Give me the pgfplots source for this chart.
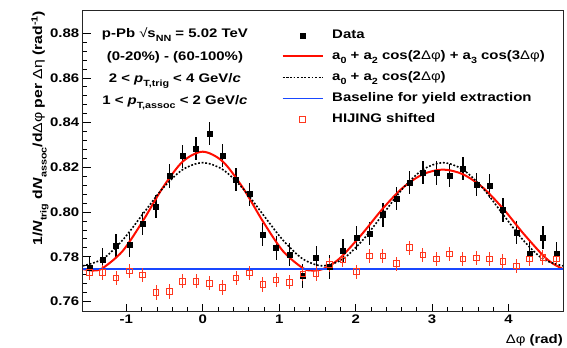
\documentclass[border=0pt]{standalone}
\usepackage{fontspec}
\setmainfont{Liberation Sans}[FakeStretch=1.2]
\newfontfamily\gr{Liberation Sans}[FakeStretch=1.2]
\usepackage{pgfplots}
\pgfplotsset{compat=1.18}
\usepackage{pgfplotstable}
\newcommand\sub[1]{\raisebox{-4.5bp}{\fontsize{9}{9}\selectfont #1}}
\newcommand\supr[1]{\raisebox{4.5bp}{\fontsize{9}{9}\selectfont #1}}
\newcommand\dphi{{\gr\mdseries Δφ}}
\newcommand\deta{{\gr\mdseries Δη}}
\definecolor{fitred}{rgb}{1,0.05,0.0}
\definecolor{hijred}{rgb}{1,0.22,0.12}
\definecolor{baseblue}{rgb}{0.1,0.28,1}
\newcommand\bigfont{\fontsize{12.5}{14}\selectfont\bfseries}
\newcommand\labfont{\fontsize{13.2}{15}\selectfont\bfseries}

\pgfplotstableread{
x y e
-1.4835 0.7750 0.0052
-1.3090 0.7787 0.0052
-1.1345 0.7850 0.0052
-0.9599 0.7852 0.0052
-0.7854 0.7948 0.0052
-0.6109 0.8025 0.0052
-0.4363 0.8161 0.0052
-0.2618 0.8250 0.0052
-0.0873 0.8283 0.0052
0.0873 0.8351 0.0052
0.2618 0.8252 0.0052
0.4363 0.8144 0.0052
0.6109 0.8080 0.0052
0.7854 0.7900 0.0052
0.9599 0.7839 0.0052
1.1345 0.7810 0.0052
1.3090 0.7714 0.0052
1.4835 0.7794 0.0052
1.6581 0.7754 0.0052
1.8326 0.7827 0.0052
2.0071 0.7884 0.0052
2.1817 0.7905 0.0052
2.3562 0.7987 0.0052
2.5307 0.8059 0.0052
2.7053 0.8133 0.0052
2.8798 0.8178 0.0052
3.0543 0.8175 0.0052
3.2289 0.8164 0.0052
3.4034 0.8196 0.0052
3.5779 0.8123 0.0052
3.7525 0.8116 0.0052
3.9270 0.8009 0.0052
4.1015 0.7908 0.0052
4.2761 0.7812 0.0052
4.4506 0.7886 0.0052
4.6251 0.7812 0.0052
}\datatab

\pgfplotstableread{
x y e
-1.4835 0.7729 0.0032
-1.3090 0.7729 0.0032
-1.1345 0.7704 0.0032
-0.9599 0.7736 0.0032
-0.7854 0.7719 0.0032
-0.6109 0.7640 0.0032
-0.4363 0.7644 0.0032
-0.2618 0.7690 0.0032
-0.0873 0.7690 0.0032
0.0873 0.7681 0.0032
0.2618 0.7662 0.0032
0.4363 0.7705 0.0032
0.6109 0.7727 0.0032
0.7854 0.7676 0.0032
0.9599 0.7696 0.0032
1.1345 0.7686 0.0032
1.3090 0.7723 0.0032
1.4835 0.7725 0.0032
1.6581 0.7764 0.0032
1.8326 0.7785 0.0032
2.0071 0.7733 0.0032
2.1817 0.7803 0.0032
2.3562 0.7803 0.0032
2.5307 0.7769 0.0032
2.7053 0.7840 0.0032
2.8798 0.7807 0.0032
3.0543 0.7790 0.0032
3.2289 0.7812 0.0032
3.4034 0.7790 0.0032
3.5779 0.7794 0.0032
3.7525 0.7790 0.0032
3.9270 0.7779 0.0032
4.1015 0.7759 0.0032
4.2761 0.7790 0.0032
4.4506 0.7797 0.0032
4.6251 0.7790 0.0032
}\hijtab

\begin{document}
\begin{tikzpicture}
\begin{axis}[
  at={(0,0)}, anchor=south west,
  scale only axis, width=480.3bp, height=301bp,
  xmin=-1.5708, xmax=4.7124, ymin=0.7554, ymax=0.8901,
  axis line style={line width=0.8bp, black!85},
  tick align=inside, xtick pos=bottom, ytick pos=left,
  major tick length=8bp, minor tick length=4.5bp,
  tick style={line width=0.8bp, black},
  xtick={-1,0,1,2,3,4}, xticklabels={-1,0,1,2,3,4},
  ytick={0.76,0.78,0.80,0.82,0.84,0.86,0.88},
  yticklabels={0.76,0.78,0.80,0.82,0.84,0.86,0.88},
  minor x tick num=4, minor y tick num=4,
  ticklabel style={font=\bigfont},
  xlabel={\dphi\ (rad)},
  xlabel style={at={(rel axis cs:1,0)}, anchor=north east, yshift=-22.5bp, inner sep=0pt, font=\bigfont},
  ylabel={1/\textit{N}\sub{trig} d\textit{N}\sub{assoc}/d\dphi\ per \deta\ (rad\supr{-1})},
  ylabel style={at={(rel axis cs:-0.0847,1)}, anchor=base east, inner sep=0pt, font=\labfont},
  legend cell align=left,
  legend image code/.code={\draw[mark repeat=2,mark phase=2,#1] plot coordinates {(0bp,0bp) (20bp,0bp) (40bp,0bp)};},
  legend style={at={(rel axis cs:0.414,0.944)}, anchor=north west, draw=none, fill=none,
    font=\bigfont, row sep=6.1bp, inner sep=0pt,
    nodes={inner sep=1.5bp, text height=9bp, text depth=3bp},
    /tikz/every odd column/.append style={column sep=7bp}},
]
\addplot[only marks, mark=square*, mark size=2.5bp, black,
  error bars/.cd, y dir=both, y explicit, error mark=none,
  error bar style={line width=1.3bp, black}]
  table[x=x, y=y, y error=e] {\datatab};
\addlegendentry{Data}

\addplot[fitred, line width=2bp, smooth, no marks] coordinates {
(-1.5708,0.7745) (-1.4399,0.7738) (-1.3090,0.7749) (-1.0472,0.7826) (-0.7854,0.7959)
(-0.5236,0.8109) (-0.2618,0.8226) (0,0.8270) (0.2618,0.8226) (0.5236,0.8109)
(0.7854,0.7959) (1.0472,0.7826) (1.3090,0.7749) (1.4399,0.7738) (1.5708,0.7745)
(1.7017,0.7769) (1.8326,0.7806) (2.0944,0.7906) (2.3562,0.8016) (2.6180,0.8109)
(2.8798,0.8169) (3.1416,0.8190) (3.4034,0.8169) (3.6652,0.8109) (3.9270,0.8016)
(4.1888,0.7906) (4.4506,0.7806) (4.5815,0.7769) (4.7124,0.7745)};
\addlegendentry{a\sub{0} + a\sub{2} cos(2\dphi) + a\sub{3} cos(3\dphi)}

\addplot[black, line width=1.6bp, dash pattern=on 1.8bp off 1.8bp, smooth, no marks] coordinates {
(-1.5708,0.7759) (-1.3090,0.7790) (-1.0472,0.7875) (-0.7854,0.7990) (-0.5236,0.8106)
(-0.2618,0.8190) (0,0.8221) (0.2618,0.8190) (0.5236,0.8106) (0.7854,0.7990)
(1.0472,0.7875) (1.3090,0.7790) (1.5708,0.7759) (1.8326,0.7790) (2.0944,0.7875)
(2.3562,0.7990) (2.6180,0.8106) (2.8798,0.8190) (3.1416,0.8221) (3.4034,0.8190)
(3.6652,0.8106) (3.9270,0.7990) (4.1888,0.7875) (4.4506,0.7790) (4.7124,0.7759)};
\addlegendentry{a\sub{0} + a\sub{2} cos(2\dphi)}

\addplot[baseblue, line width=1.1bp, no marks] coordinates {(-1.5708,0.7745) (4.7124,0.7745)};
\addlegendentry{Baseline for yield extraction}

\addplot[only marks, mark=square, mark size=2.8bp, color=hijred,
  mark options={draw=hijred, fill=white, line width=1bp},
  error bars/.cd, y dir=both, y explicit, error mark=none,
  error bar style={line width=1bp, hijred}]
  table[x=x, y=y, y error=e] {\hijtab};
\addlegendentry{HIJING shifted}

\node[anchor=base, font=\bigfont] at (rel axis cs:0.192,0.9126) {p-Pb {\gr\mdseries √}s\sub{NN} = 5.02 TeV};
\node[anchor=base, font=\bigfont] at (rel axis cs:0.192,0.833) {(0-20\%) - (60-100\%)};
\node[anchor=base, font=\bigfont] at (rel axis cs:0.192,0.763) {2 < \textit{p}\sub{T,trig} < 4 GeV/\textit{c}};
\node[anchor=base, font=\bigfont] at (rel axis cs:0.192,0.69) {1 < \textit{p}\sub{T,assoc} < 2 GeV/\textit{c}};
\end{axis}
\pgfresetboundingbox
\path[use as bounding box] (-82.7bp,-36.3bp) rectangle (484.3bp,311.7bp);
\end{tikzpicture}
\end{document}
